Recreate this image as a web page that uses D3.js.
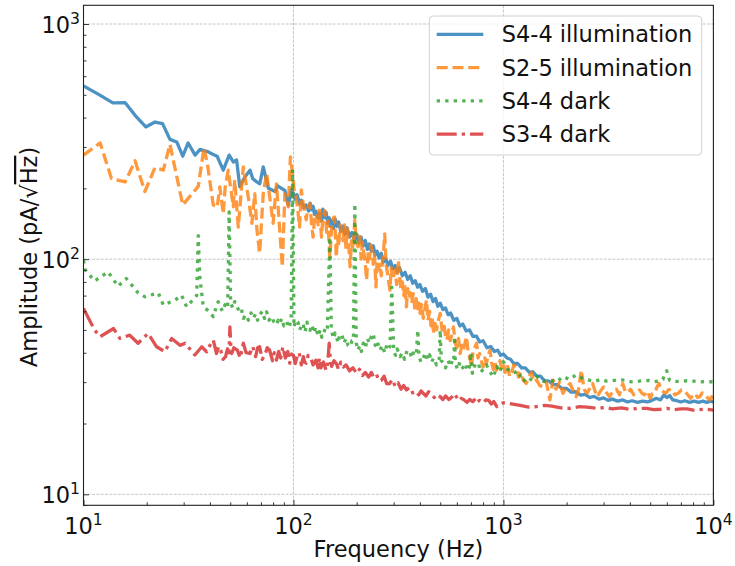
<!DOCTYPE html>
<html><head><meta charset="utf-8">
<script src="https://cdn.jsdelivr.net/npm/d3@7"></script>
<style>
html,body{margin:0;padding:0;background:#fff;}
svg{display:block;font-family:"DejaVu Sans",sans-serif;}
</style></head>
<body><svg id="c" width="735" height="566"></svg>
<script>
// ---------------- data ----------------
const seriesNames = ["S4-4 illumination", "S2-5 illumination", "S4-4 dark", "S3-4 dark"];

const illum44F = [10,11.8,13.8,15.8,17.6,19.8,21.9,23.8,25.8,27.8,29.7,31.5,34,35.9,39.3,41,43.3,46.3,49.4,51.7,53.6,55.5,58.8,62.1,64,66.9,69.1,71.8,76,81.8,84,87.7,91,94.5,97.8,
 100,102,104,107,109,112,115,118,120,122,124,126,128,131,133,136,138,141,143,146,148,150,152,155,158,161,164,168,172,176,180,185,190,195,200,205,210,215,220,225,230,235,240,245,250,256,262,268,275,282,290,297,305,312,320,330,340,350,360,370,380,390,400,412,425,437,450,462,475,487,500,515,530,545,560,580,600,620,640,665,690,715,745,770,800,835,870,905,940,970,
 1000,1040,1080,1120,1170,1220,1270,1330,1380,1440,1500,1570,1650,1720,1800,1900,2000,2100,2200,2330,2450,2580,2700,2850,3000,3150,3300,3500,3700,3900,4100,4350,4600,4850,5100,5350,5600,5800,6000,6200,6400,6700,7000,7300,7700,8100,8500,8900,9300,9700,10000];
const illum44A = [545,502,462,463,409,365,383,377,323,315,274,312,277,293,286,280,274,239,277,259,264,203,224,239,220,213,209,247,200,194,205,200,196,170,197,
 190,180,188,172,178,165,170,160,173,162,168,155,160,150,157,146,163,150,158,142,150,138,146,135,148,138,144,131,138,128,136,124,130,120,128,117,124,114,120,110,116,108,114,104,108,101,106,97,101,94,98,91,94,88,92,85,88,82,85,79,81,76,78,73,75,69,71,66,68,63,65,61,62,58,59,55,56,52,53,49.5,50,47,47,44.5,45,42,42.5,40.5,41,39,
 39.5,38,37.5,36,36,34.5,34.5,33,33.2,31.8,31.8,30.4,30.3,29.3,29.3,28.2,28.2,27.2,27.3,26.4,26.6,25.8,26.1,25.4,25.7,25.1,25.4,24.9,25.2,24.7,25.0,24.6,24.9,24.7,25.1,25.6,25.2,26.4,25.8,26.3,25.2,25.0,24.7,25.0,24.6,24.9,24.6,24.9,24.6,24.9,24.7];

const illum25F = [10,12,13.6,15.8,17.6,19.6,21.9,24,25.8,29.7,35.2,37.5,39,41.5,43.3,44.6,46.3,47.3,48.9,51.7,52.5,54.6,57.7,60.9,63.4,65.4,67,69,71.8,74.5,78.6,80,83,88.5,91,94.5,96.7,
 99.9,101,103,105,107,109,111,113,115,117,120,122,124,126,128,131,133,136,138,141,144,146,149,152,155,157,160,162,164,167,170,172,175,178,180,183,186,189,192,196,199,203,207,210,213,217,220,223,227,230,233,237,240,243,247,250,254,258,262,266,269,272,276,280,284,288,292,296,300,305,310,316,320,325,330,335,340,345,350,355,360,366,372,378,384,390,396,401,408,415,422,430,437,445,452,458,464,472,480,490,500,510,520,530,538,548,558,568,578,590,600,611,622,634,645,656,667,680,692,704,716,730,745,757,770,785,800,815,830,846,863,880,895,910,926,945,963,980,
 1000,1020,1045,1070,1095,1120,1150,1180,1210,1245,1284,1320,1360,1400,1440,1490,1545,1600,1665,1720,1780,1850,1920,2000,2075,2150,2220,2280,2350,2420,2500,2580,2660,2730,2800,2900,3000,3100,3200,3320,3450,3570,3700,3800,3900,4030,4170,4300,4450,4580,4700,4850,5000,5120,5250,5380,5500,5700,5940,6100,6300,6550,6800,7050,7300,7550,7800,8000,8200,8400,8600,8850,9100,9350,9600,9800,10000];
const illum25A = [277,312,220,213,262,194,245,239,308,170,204,298,250,170,166,203,156,203,239,167,217,137,247,184,142,190,133,106,190,232,161,142,209,92.7,190,167,272,
 217,190,184,160,137,197,175,160,147,165,172,140,124,150,156,140,165,124,150,161,130,145,102,135,150,151,102,125,113,140,128,120,140,110,135,118,92.7,120,110,147,118,113,125,100,118,105,95,81.5,108,100,115,109,95,105,76.2,98,90,95,85,100,110,128,95,88,80,73.8,92,82,85,90,78,99,85,75,80,70,78,62.7,75,68,72,65,71.4,62,68,60,65,58.8,64,56,61,67,55,60,52,56,48.3,55,50,55,58.8,50,53,47,45.3,50,45,48,51.5,44,42,46,39.7,43,41,44,46.8,40,38,34.8,40,42,43.9,38,39.7,37,34.8,38,36,39,41,36,34,36.5,33.7,35,37,34.5,
 36.1,33,35.5,31.7,33,35.5,34.8,31.5,33,30.5,29.6,31.5,33,30,30.6,29,28.6,30,25.2,30.6,28,30,26.9,28.5,29.6,27.5,26,28,33.7,28,26.9,28.2,29.6,27.5,26,27.5,28.6,27,26,27.5,28,26.5,29.6,27.5,27,28,26.5,27.2,27.8,26.8,26.5,27.5,25.6,26.8,27,28.5,29.6,27.5,26.9,27.8,28,26.5,26.9,27.8,27.5,26.5,25.6,26.5,26.8,25.8,26,27,26.5,25.8,25.2,26,25.5];

const dark44F = [10,10.2,11.3,13.1,14.6,16,18.2,19.6,22.7,24,27.3,29.3,31,33.3,34.6,35.2,35.8,37.2,
 40,41.5,42.5,43.8,45,46,47.2,48.6,49.4,50.2,51.5,52.5,53.6,55,56.5,57.7,59.5,61,62.8,64.4,66,67.5,69,71,72.8,74.5,76.5,78.6,80.8,83,84.5,86,88,90,92.9,95,97.5,99,100.6,102.5,105,107,109,111,113.5,116,118,120,122.5,125,128,131,134,136.5,139,142,145,149,151.5,155,158,160,163,166,170,174,178,182,186,190,193,196,199,203,207,211,215,220,225,230,235,240,245,250,258,265,272,280,288,294,300,306,312,322,330,338,348,358,366,375,385,391,396,405,415,425,435,445,455,465,480,494,500,506,518,530,545,560,572,580,585,590,605,620,640,660,675,689,700,712,735,760,780,800,830,863,895,930,960,
 1000,1050,1112,1170,1240,1300,1370,1443,1550,1665,1790,1920,2060,2220,2400,2560,2720,2900,3100,3300,3550,3800,4050,4300,4600,4900,5200,5500,5750,5870,6000,6100,6200,6600,7000,7450,7900,8350,8800,9400,10000];
const dark44A = [99,90,80.8,88.3,76.7,82.7,71.9,69.2,71.9,63.8,67,70.3,62.7,67.4,70,126,84,62.7,
 59.7,56.9,61,65.9,62,60,64,62,159,64.9,62,66,63.8,60,61.5,56,58,55,59,56,58.5,55,57.9,60,56,59.7,55,57,54,52.5,55,53.3,56,52,54.2,51,55,240,51.5,55,54,50,52,53.3,49,54,50.5,49.9,52.5,48.5,51.5,47,50,46.5,48.3,51,50,124,49.9,46,48.5,47,44,47.5,48,44,46,43,42.4,45,45,172,44,41,43,40.5,43.9,42,46,44,47,48.3,43,45,41,43,40,44,42.4,76,41,39,41.5,38.5,40,37.5,41,40.4,38,41,40,49.9,38.5,36.5,38,40,37.5,39.2,36.5,38,35.5,37.5,49.9,37,36.1,34.5,37,35,37.5,37,46.8,36.1,34,36.5,34.5,36,33.5,34.8,40,32.7,36,36,33,34,35.5,33.2,31.5,35,33,
 36.6,34,32.7,33.5,30.1,31.5,30.5,31.7,30.2,30.6,30,31.7,30.8,32.2,31,30.6,30.2,30.8,30.3,30.4,30.7,30.6,30.1,30.2,30.4,30.5,30.1,30.3,30.8,32.7,33.5,31.5,30.5,30.2,30.2,30.4,30.4,30.1,30.1,30.2,30];

const dark34F = [10,11.3,12,13.9,14.9,16.6,18.2,20.3,22.3,24.4,26.3,28.8,30.5,33.9,36.6,38.6,
 40,41.5,43,44,45,46.2,47.5,48.5,49.3,49.8,50.3,50.8,52,54,55.8,57.7,59.5,62,64,66,67.5,69,71,73,75,77,79.5,81,83,85,87,89,91.5,94,96,98,100,102,104,106.5,109,111.5,113,115,117.5,121,124,128,131,133,135,139,143,145.5,148,150,152,156,160,164,168,173,178,185,192,200,206,213,220,228,235,240,248,255,262,270,278,287,296,305,315,325,335,345,358,370,380,395,405,415,428,440,455,468,480,500,515,530,550,570,585,597,615,630,650,670,690,715,735,750,770,800,825,850,875,900,930,960,
 1000,1070,1200,1320,1440,1570,1700,1880,2070,2300,2500,2800,3050,3300,3650,4000,4400,4800,5200,5600,6000,6500,7000,7500,8000,8500,9200,10000];
const dark34A = [61.7,49.9,46.8,50.7,46,47.5,43.9,48.3,42.4,40.4,46,43,43.9,39.1,42.4,40.4,
 43,45.3,39.7,42.5,41,37.5,38.5,41.5,40,51.5,43,39.7,42,41,38,43.9,40,39.7,42.5,38.5,42,42.4,37.5,39,42,41,37,40,37.2,40.5,38,42.4,38,40.5,36.1,39.5,39,36,38.5,40,35.5,38.5,36.5,36.1,39,38,35.5,37.2,34.5,38,34.5,36.5,33.7,36,43.9,36.5,35,37,36,34,36.5,34.8,35.5,33.5,34.5,32.7,34,32,33,31.5,33,31.7,32.5,30.5,30.5,31.8,29.5,29.6,30.8,28.8,29.8,28,29,27.8,28.5,27,27.5,26.5,27.5,26.9,26.2,27.3,26.8,25.8,26.6,26,25.3,26.2,25.3,26,26.8,26,25,25.6,25.2,24.6,25.3,24.8,25.5,24.6,25.1,24.5,25.2,25.1,24.2,24.8,23.6,24.2,
 24.5,24.3,23.9,23.5,23.6,23.9,23.7,23.3,23.2,23.6,23.5,23.2,23.4,23.1,23.3,23,23.2,23.2,22.9,23,23.2,22.9,23.1,23.1,22.8,22.9,23,22.8];

const xMajor = [10, 100, 1000, 10000];
const yMajor = [10, 100, 1000];
const xExp = ["1","2","3","4"];
const yExp = ["1","2","3"];
const xLabel = "Frequency (Hz)";

// ---------------- drawing ----------------
const svg = d3.select("#c");
const L = 83.5, R = 713.4, T = 5.3, B = 505.3;
const FS = 22.5;
const x = d3.scaleLog().domain([10, 10000]).range([L, R]);
const y = d3.scaleLog().domain([8.98, 1201]).range([B, T]);

svg.append("defs").append("clipPath").attr("id","clip")
  .append("rect").attr("x",L).attr("y",T).attr("width",R-L).attr("height",B-T);

// grid
const grid = svg.append("g");
xMajor.forEach(v => grid.append("line").attr("x1",x(v)).attr("x2",x(v)).attr("y1",T).attr("y2",B)
  .attr("stroke","#b8b8b8").attr("stroke-width",0.8).attr("stroke-dasharray","3,1.3"));
yMajor.forEach(v => grid.append("line").attr("x1",L).attr("x2",R).attr("y1",y(v)).attr("y2",y(v))
  .attr("stroke","#b8b8b8").attr("stroke-width",0.8).attr("stroke-dasharray","3,1.3"));

const styles = [
  {c:"#1f77b4", dash:null},
  {c:"#ff7f0e", dash:"11,4.8"},
  {c:"#2ca02c", dash:"3.3,5.2"},
  {c:"#d62728", dash:"20,5,3.3,5"}
];
const data = [
  d3.zip(illum44F, illum44A),
  d3.zip(illum25F, illum25A),
  d3.zip(dark44F, dark44A),
  d3.zip(dark34F, dark34A)
];
const line = d3.line().x(d => x(d[0])).y(d => y(d[1]));
const plot = svg.append("g").attr("clip-path","url(#clip)");
data.forEach((d,i) => {
  plot.append("path").datum(d).attr("d", line).attr("fill","none")
    .attr("stroke", styles[i].c).attr("stroke-opacity",0.8).attr("stroke-width",3.3)
    .attr("stroke-linejoin","round")
    .attr("stroke-dasharray", styles[i].dash);
});

// axes (ticks inward)
function minors(lo, hi){ const out=[]; for(let e=0;e<5;e++){ for(let k=2;k<10;k++){ const v=k*Math.pow(10,e); if(v>lo && v<hi) out.push(v);} } return out; }
svg.append("g").attr("transform",`translate(0,${B})`)
  .call(d3.axisBottom(x).tickValues(xMajor).tickSizeInner(-5.5).tickSizeOuter(0).tickFormat(""));
svg.append("g").attr("transform",`translate(0,${B})`)
  .call(d3.axisBottom(x).tickValues(minors(10,10000)).tickSizeInner(-3).tickSizeOuter(0).tickFormat(""));
svg.append("g").attr("transform",`translate(${L},0)`)
  .call(d3.axisLeft(y).tickValues(yMajor).tickSizeInner(-5.5).tickSizeOuter(0).tickFormat(""));
svg.append("g").attr("transform",`translate(${L},0)`)
  .call(d3.axisLeft(y).tickValues(minors(8.98,1201)).tickSizeInner(-3).tickSizeOuter(0).tickFormat(""));
svg.selectAll(".domain").remove();
svg.selectAll(".tick line").attr("stroke","#222").attr("stroke-width",0.9);

// tick labels
xMajor.forEach((v,i) => {
  const t = svg.append("text").attr("x", x(v)).attr("y", 534).attr("text-anchor","middle")
    .attr("font-size",FS).attr("fill","#111");
  t.append("tspan").text("10");
  t.append("tspan").attr("dy",-9).attr("font-size",15.6).text(xExp[i]);
});
yMajor.forEach((v,i) => {
  const t = svg.append("text").attr("x", 80).attr("y", y(v)+8.6).attr("text-anchor","end")
    .attr("font-size",FS).attr("fill","#111");
  t.append("tspan").text("10");
  t.append("tspan").attr("dy",-9).attr("font-size",15.6).text(yExp[i]);
});

// frame
svg.append("rect").attr("x",L).attr("y",T).attr("width",R-L).attr("height",B-T)
  .attr("fill","none").attr("stroke","#222").attr("stroke-width",1.1);

// axis labels
svg.append("text").attr("x",(L+R)/2).attr("y",557).attr("text-anchor","middle")
  .attr("font-size",FS).attr("fill","#111").text(xLabel);
const yl = svg.append("text").attr("transform","translate(37,257) rotate(-90)")
  .attr("text-anchor","middle").attr("font-size",FS).attr("fill","#111");
yl.append("tspan").text("Amplitude (pA/\u221A");
yl.append("tspan").attr("text-decoration","overline").text("Hz");
yl.append("tspan").text(")");

// legend
const lg = svg.append("g");
lg.append("rect").attr("x",429.3).attr("y",16).attr("width",272.4).attr("height",139).attr("rx",4)
  .attr("fill","#fff").attr("fill-opacity",0.8).attr("stroke","#d0d0d0").attr("stroke-width",1);
seriesNames.forEach((n,i) => {
  const yy = 34.3 + i*33.3;
  lg.append("line").attr("x1",436.7).attr("x2",483.3).attr("y1",yy).attr("y2",yy)
    .attr("stroke",styles[i].c).attr("stroke-opacity",0.8).attr("stroke-width",3.3)
    .attr("stroke-dasharray",styles[i].dash);
  lg.append("text").attr("x",501.7).attr("y",yy+8).attr("font-size",FS).attr("fill","#111").text(n);
});
</script></body></html>
